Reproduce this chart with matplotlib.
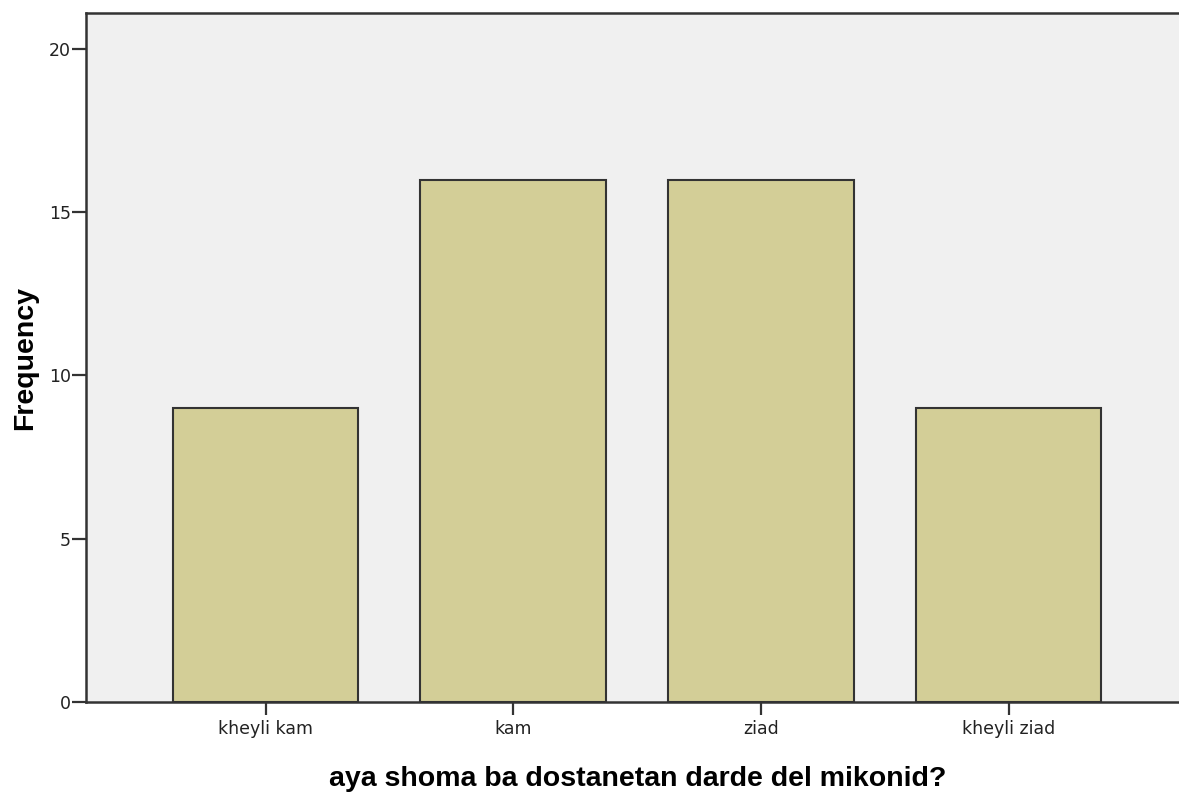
import numpy as np
import matplotlib.pyplot as plt

# answer categories and counts
categories = ['kheyli kam', 'kam', 'ziad', 'kheyli ziad']
counts = [9, 16, 16, 9]
yticks = [0, 5, 10, 15, 20]

fig = plt.figure(figsize=(11.79, 7.94), dpi=100)
ax = fig.add_axes([86/1179, 1 - 702/794, 1 - 86/1179, (702 - 13)/794])
ax.set_facecolor('#f0f0f0')

x = np.arange(len(categories))
ax.bar(x, counts, width=0.75, color='#d3ce97', edgecolor='#333333', linewidth=1.5, zorder=2)

ax.set_xlim(-0.7247, 3.688)
ax.set_ylim(0, 21.1)
ax.set_xticks(x)
ax.set_xticklabels(categories, fontsize=12.5, family='DejaVu Sans', color='#222222')
ax.set_yticks(yticks)
ax.set_yticklabels([str(v) for v in yticks], fontsize=12.5, family='DejaVu Sans', color='#222222')
ax.tick_params(axis='y', length=10, width=1.6, color='#333333', pad=1)
ax.tick_params(axis='x', length=9, width=1.6, color='#333333', pad=4)

for s in ['left', 'top', 'bottom']:
    ax.spines[s].set_color('#333333')
    ax.spines[s].set_linewidth(1.8)
ax.spines['right'].set_visible(False)

ax.set_ylabel('Frequency', fontsize=20.5, fontweight='bold', family='Liberation Sans')
ax.yaxis.set_label_coords(-0.044, 0.5)
ax.set_xlabel('aya shoma ba dostanetan darde del mikonid?', fontsize=20.5, fontweight='bold',
              family='Liberation Sans')
ax.xaxis.set_label_coords(0.505, -0.093)

fig.savefig('out.png', dpi=100)
